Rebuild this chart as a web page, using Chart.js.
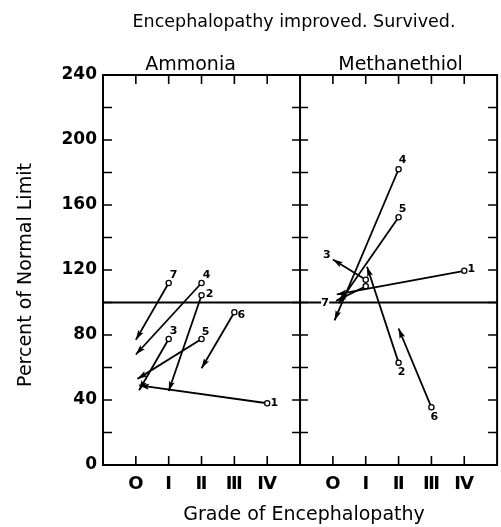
<!DOCTYPE html>
<html>
<head>
<meta charset="utf-8">
<script src="https://cdn.jsdelivr.net/npm/chart.js@4.4.1/dist/chart.umd.min.js"></script>
<style>
  html, body { margin: 0; padding: 0; background: #fff; }
  canvas { display: block; }
</style>
</head>
<body>
<canvas id="c" width="501" height="527"></canvas>
<script>
// ---------------- data ----------------
const mainTitle = 'Encephalopathy improved. Survived.';
const panelTitles = ['Ammonia', 'Methanethiol'];
const yAxisTitle = 'Percent of Normal Limit';
const xAxisTitle = 'Grade of Encephalopathy';
const gradeLabels = ['O', 'Ⅰ', 'Ⅱ', 'Ⅲ', 'Ⅳ'];
const patientLabels = ['1', '2', '3', '4', '5', '6', '7'];
const yTickValues = [0, 40, 80, 120, 160, 200, 240];
const normalLimit = 100;

// Ammonia: arrow from start (open circle) to end (arrowhead)
const ammoniaStartGrade = [4, 2, 1, 2, 2, 3, 1];
const ammoniaStartPct   = [38, 104.5, 77.5, 112, 77.5, 94, 112];
const ammoniaEndGrade   = [0.1, 1, 0.1, 0, 0.05, 2, 0];
const ammoniaEndPct     = [49, 45.5, 46, 68, 53, 59.5, 77];

// Methanethiol
const methStartGrade = [4, 2, 1, 2, 2, 3, 1];
const methStartPct   = [119.5, 63, 114, 182, 152.5, 35.5, 110];
const methEndGrade   = [0.12, 1.04, 0, 0.05, 0.18, 2, 0.1];
const methEndPct     = [105, 122, 126.5, 89, 99.5, 84, 101];

// ---------------- layout helpers ----------------
const PANEL_SHIFT = 6;           // right panel occupies x = 5..11
const xTickValues = [0, 1, 2, 3, 4, 6, 7, 8, 9, 10];

// label placement (pixel offsets) relative to an arrow point
const ammoniaLabelPlace = [
  ['start', 7, 0], ['start', 8, -1], ['start', 5, -8], ['start', 5, -8],
  ['start', 4, -7], ['start', 7, 3], ['start', 5, -8]
];
const methLabelPlace = [
  ['start', 7, -2], ['start', 3, 10], ['end', -6, -4], ['start', 4, -9],
  ['start', 4, -8], ['start', 3, 10], ['end', -11, 2]
];

function buildSets(sg, sp, eg, ep, shift, place) {
  return sg.map((g, i) => ({
    label: patientLabels[i],
    data: [{ x: g + shift, y: sp[i] }, { x: eg[i] + shift, y: ep[i] }],
    borderColor: '#000',
    borderWidth: 1.8,
    pointRadius: [2.6, 0],
    pointHoverRadius: [2.6, 0],
    pointBackgroundColor: '#fff',
    pointBorderColor: '#000',
    pointBorderWidth: 1.3,
    fill: false,
    tension: 0,
    place: place[i]
  }));
}

const datasets = [
  ...buildSets(ammoniaStartGrade, ammoniaStartPct, ammoniaEndGrade, ammoniaEndPct, 0, ammoniaLabelPlace),
  ...buildSets(methStartGrade, methStartPct, methEndGrade, methEndPct, PANEL_SHIFT, methLabelPlace)
];

const FONT = '"DejaVu Sans", sans-serif';

const decor = {
  id: 'decor',
  beforeDraw(chart) {
    const ctx = chart.ctx;
    ctx.save();
    ctx.fillStyle = '#fff';
    ctx.fillRect(0, 0, chart.width, chart.height);
    ctx.restore();
  },
  beforeDatasetsDraw(chart) {
    const { ctx, chartArea: a, scales: { x, y } } = chart;
    ctx.save();
    ctx.strokeStyle = '#000';
    ctx.lineCap = 'butt';
    // frame
    ctx.lineWidth = 2;
    ctx.strokeRect(a.left, a.top, a.right - a.left, a.bottom - a.top);
    // divider
    const xd = x.getPixelForValue(5);
    ctx.beginPath();
    ctx.moveTo(xd, a.top); ctx.lineTo(xd, a.bottom);
    ctx.stroke();
    // normal limit line
    const yl = y.getPixelForValue(normalLimit);
    ctx.beginPath();
    ctx.moveTo(a.left, yl); ctx.lineTo(a.right, yl);
    ctx.stroke();
    // y ticks every 20, inward
    ctx.lineWidth = 1.6;
    for (let v = 20; v < 240; v += 20) {
      const py = y.getPixelForValue(v);
      ctx.beginPath();
      ctx.moveTo(a.left, py); ctx.lineTo(a.left + 9, py);
      ctx.moveTo(a.right, py); ctx.lineTo(a.right - 9, py);
      ctx.moveTo(xd - 8, py); ctx.lineTo(xd + 8, py);
      ctx.stroke();
    }
    // x ticks, inward top and bottom
    xTickValues.forEach(v => {
      const px = x.getPixelForValue(v);
      ctx.beginPath();
      ctx.moveTo(px, a.bottom); ctx.lineTo(px, a.bottom - 9);
      ctx.moveTo(px, a.top); ctx.lineTo(px, a.top + 9);
      ctx.stroke();
    });
    ctx.restore();
  },
  afterDatasetsDraw(chart) {
    const { ctx, chartArea: a, scales: { x, y } } = chart;
    ctx.save();
    // arrowheads at end points
    chart.data.datasets.forEach((ds, i) => {
      const meta = chart.getDatasetMeta(i);
      const p0 = meta.data[0], p1 = meta.data[1];
      const ang = Math.atan2(p1.y - p0.y, p1.x - p0.x);
      const L = 10, W = 3;
      ctx.save();
      ctx.translate(p1.x, p1.y);
      ctx.rotate(ang);
      ctx.fillStyle = '#000';
      ctx.beginPath();
      ctx.moveTo(0, 0);
      ctx.lineTo(-L, -W);
      ctx.lineTo(-L + 2, 0);
      ctx.lineTo(-L, W);
      ctx.closePath();
      ctx.fill();
      ctx.restore();
    });
    // patient number labels
    ctx.font = 'bold 11px ' + FONT;
    ctx.textAlign = 'center';
    ctx.textBaseline = 'middle';
    chart.data.datasets.forEach((ds, i) => {
      const meta = chart.getDatasetMeta(i);
      const [anchor, dx, dy] = ds.place;
      const p = anchor === 'start' ? meta.data[0] : meta.data[1];
      const tx = p.x + dx, ty = p.y + dy;
      if (anchor === 'end') {
        ctx.fillStyle = '#fff';
        ctx.fillRect(tx - 4, ty - 5, 8, 10);
      }
      ctx.fillStyle = '#000';
      ctx.fillText(ds.label, tx, ty);
    });
    // titles
    ctx.fillStyle = '#000';
    ctx.textBaseline = 'alphabetic';
    ctx.font = '17.5px ' + FONT;
    ctx.fillText(mainTitle, 294, 27);
    ctx.font = '19px ' + FONT;
    ctx.fillText(panelTitles[0], (a.left + x.getPixelForValue(5)) / 2 - 11, 70);
    ctx.fillText(panelTitles[1], (x.getPixelForValue(5) + a.right) / 2 + 2, 70);
    ctx.font = '19px ' + FONT;
    ctx.fillText(xAxisTitle, 304, 520);
    ctx.save();
    ctx.translate(31, 275);
    ctx.rotate(-Math.PI / 2);
    ctx.fillText(yAxisTitle, 0, 0);
    ctx.restore();
    ctx.restore();
  }
};

new Chart(document.getElementById('c'), {
  type: 'line',
  data: { datasets },
  options: {
    responsive: false,
    animation: false,
    devicePixelRatio: 1,
    layout: { padding: { top: 75, right: -2, left: 0, bottom: 0 } },
    plugins: { legend: { display: false }, tooltip: { enabled: false }, title: { display: false } },
    scales: {
      x: {
        type: 'linear',
        min: -1, max: 11,
        grid: { display: false, drawTicks: false },
        border: { display: false },
        afterBuildTicks: s => { s.ticks = xTickValues.map(v => ({ value: v })); },
        afterFit: s => { s.height = 62; },
        ticks: {
          autoSkip: false,
          maxRotation: 0,
          padding: 9,
          color: '#000',
          font: { family: FONT, size: 18, weight: 'bold' },
          callback: v => gradeLabels[v >= 5 ? v - PANEL_SHIFT : v]
        }
      },
      y: {
        min: 0, max: 240,
        grid: { display: false, drawTicks: false },
        border: { display: false },
        afterBuildTicks: s => { s.ticks = yTickValues.map(v => ({ value: v })); },
        afterFit: s => { s.width = 103; },
        ticks: {
          padding: 6,
          color: '#000',
          font: { family: FONT, size: 17, weight: 'bold' }
        }
      }
    }
  },
  plugins: [decor]
});
</script>
</body>
</html>
